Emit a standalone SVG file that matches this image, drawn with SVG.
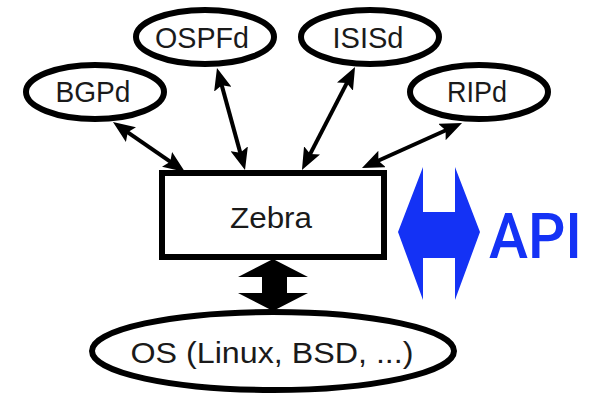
<svg xmlns="http://www.w3.org/2000/svg" width="595" height="394" viewBox="0 0 595 394">
<style>
.node ellipse, .node rect { fill: #ffffff; stroke: #000000; stroke-width: 6; }
.lbl { font-family: "Liberation Sans", Arial, sans-serif; fill: #1a1a1a; text-anchor: middle; }
.conn line { stroke: #000000; stroke-width: 4; marker-start: url(#ah); marker-end: url(#ah); }
</style>
<defs>
<marker id="ah" viewBox="0 0 22 18" refX="11" refY="9" markerWidth="22" markerHeight="18" markerUnits="userSpaceOnUse" orient="auto-start-reverse">
<path d="M0,0 L22,9 L0,18 L4,9 z" fill="#000000"/>
</marker>
</defs>
<rect width="595" height="394" fill="#ffffff"/>
<g id="connectors" class="conn">
<line x1="122" y1="128.3" x2="176" y2="165.7"/>
<line x1="219.9" y1="78.6" x2="242.1" y2="159.4"/>
<line x1="350" y1="76.8" x2="307" y2="160.2"/>
<line x1="452" y1="127.5" x2="372" y2="163.5"/>
<polygon points="273,259 308,277 287,277 287,293 308,293 273,311 238,293 262,293 262,277 238,277" fill="#000000" stroke="none"/>
</g>
<g id="BGPd" class="node">
<ellipse cx="95" cy="92" rx="69" ry="27"/>
<text class="lbl" x="93" y="102" font-size="30" textLength="75" lengthAdjust="spacingAndGlyphs">BGPd</text>
</g>
<g id="OSPFd" class="node">
<ellipse cx="205" cy="37" rx="69" ry="27"/>
<text class="lbl" x="202" y="48" font-size="30" textLength="94" lengthAdjust="spacingAndGlyphs">OSPFd</text>
</g>
<g id="ISISd" class="node">
<ellipse cx="370" cy="37" rx="69" ry="27"/>
<text class="lbl" x="368" y="48" font-size="30" textLength="71" lengthAdjust="spacingAndGlyphs">ISISd</text>
</g>
<g id="RIPd" class="node">
<ellipse cx="479" cy="92" rx="69" ry="27"/>
<text class="lbl" x="477" y="102" font-size="30" textLength="60" lengthAdjust="spacingAndGlyphs">RIPd</text>
</g>
<g id="Zebra" class="node">
<rect x="162" y="173" width="222" height="84"/>
<text class="lbl" x="271" y="228" font-size="29" textLength="82" lengthAdjust="spacingAndGlyphs">Zebra</text>
</g>
<g id="OS" class="node">
<ellipse cx="273" cy="351" rx="181" ry="39"/>
<text class="lbl" x="272" y="363" font-size="29" textLength="283" lengthAdjust="spacingAndGlyphs">OS (Linux, BSD, ...)</text>
</g>
<g id="API">
<polygon points="423,167 398,232 423,300 423,258 455,258 455,300 480,232 455,167 455,212 423,212" fill="#1432f5"/>
<text x="489" y="258" font-family="Roboto, 'Liberation Sans', sans-serif" font-weight="500" font-size="63" fill="#1432f5" textLength="93" lengthAdjust="spacingAndGlyphs">API</text>
</g>
</svg>
